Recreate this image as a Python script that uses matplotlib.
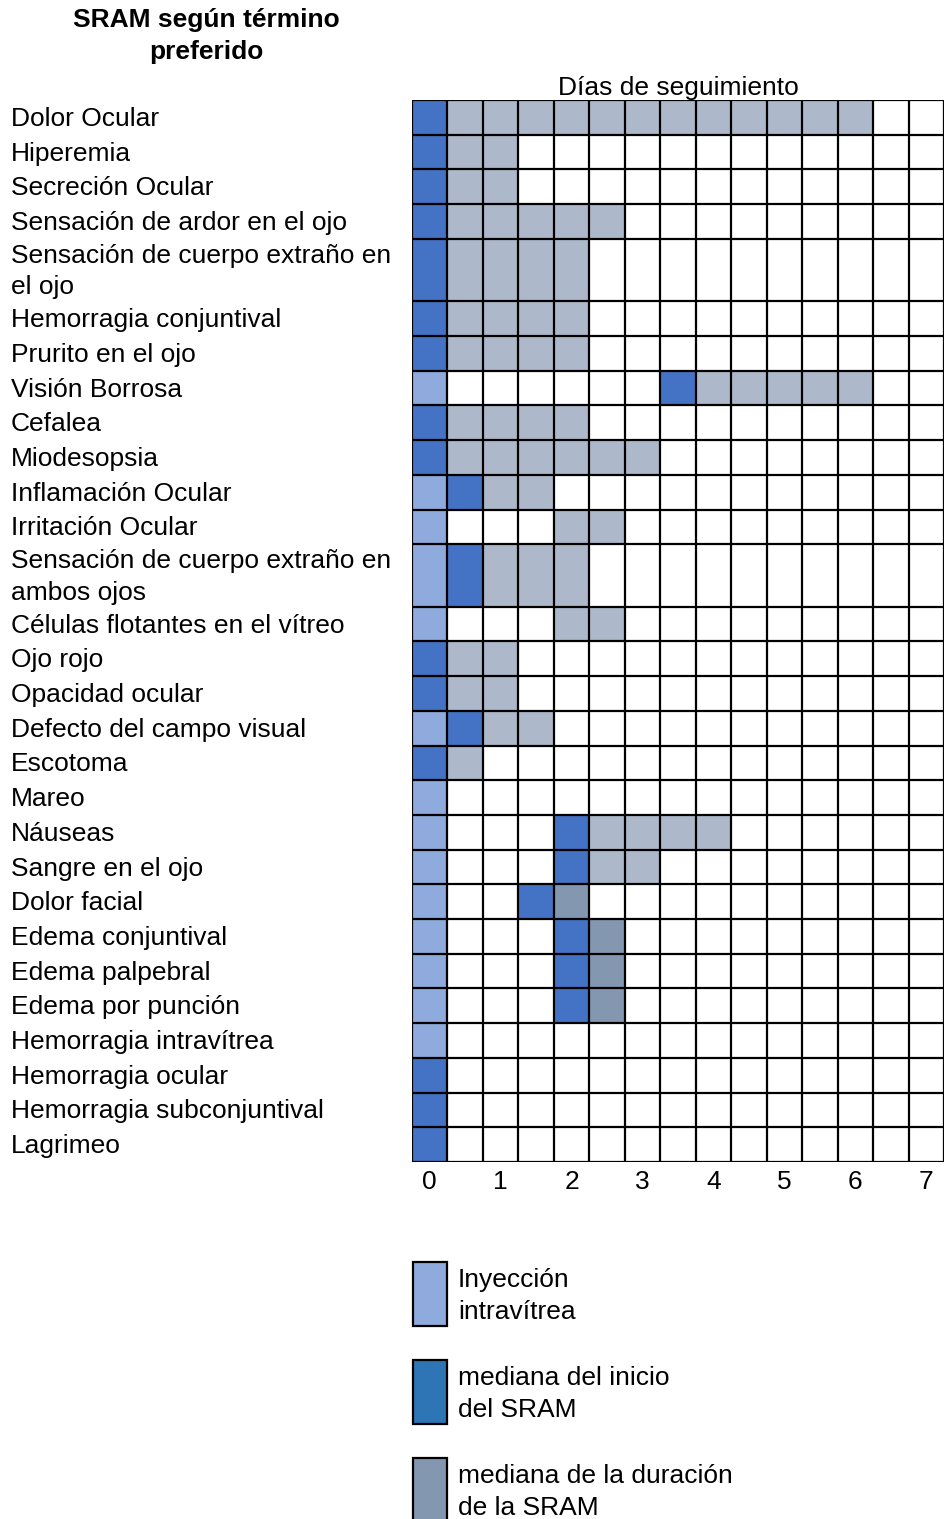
import numpy as np
import matplotlib
matplotlib.use("Agg")
import matplotlib.pyplot as plt
from matplotlib.patches import Rectangle
from matplotlib.transforms import blended_transform_factory, offset_copy

plt.rcParams['font.family'] = ['Liberation Sans', 'DejaVu Sans']

labels = [
    "Dolor Ocular", "Hiperemia", "Secreción Ocular", "Sensación de ardor en el ojo",
    "Sensación de cuerpo extraño en\nel ojo", "Hemorragia conjuntival", "Prurito en el ojo",
    "Visión Borrosa", "Cefalea", "Miodesopsia", "Inflamación Ocular", "Irritación Ocular",
    "Sensación de cuerpo extraño en\nambos ojos", "Células flotantes en el vítreo",
    "Ojo rojo", "Opacidad ocular", "Defecto del campo visual", "Escotoma", "Mareo",
    "Náuseas", "Sangre en el ojo", "Dolor facial", "Edema conjuntival", "Edema palpebral",
    "Edema por punción", "Hemorragia intravítrea", "Hemorragia ocular",
    "Hemorragia subconjuntival", "Lagrimeo",
]

# median onset day (None = no onset marked)
onset = [0, 0, 0, 0, 0, 0, 0, 3.5, 0, 0, 0.5, None, 0.5, None, 0, 0, 0.5, 0, None,
         2, 2, 1.5, 2, 2, 2, None, 0, 0, 0]

# duration span in days (start, end); None = no duration
dur_start = [0.5, 0.5, 0.5, 0.5, 0.5, 0.5, 0.5, 4.0, 0.5, 0.5, 1.0, 2.0, 1.0, 2.0,
             0.5, 0.5, 1.0, 0.5, None, 2.5, 2.5, 2.0, 2.5, 2.5, 2.5, None, None, None, None]
dur_end = [6.5, 1.5, 1.5, 3.0, 2.5, 2.5, 2.5, 6.5, 2.5, 3.5, 2.0, 3.0, 2.5, 3.0,
           1.5, 1.5, 2.0, 1.0, None, 4.5, 3.5, 2.5, 3.0, 3.0, 3.0, None, None, None, None]
dur_dark = [False] * 21 + [True, True, True, True] + [False] * 4

days = list(range(8))

c_inj = '#8FAADC'
c_onset = '#4472C4'
c_dur = '#ADB9CA'
c_dur_dark = '#8497B0'
c_leg_onset = '#2E75B6'

FS = 19
LS = 1.4

fig = plt.figure(figsize=(9.48, 15.19), dpi=100)
ax = fig.add_axes([412 / 948, 1 - 1162 / 1519, 532 / 948, 1062 / 1519])

heights = np.array([1.8 if "\n" in l else 1.0 for l in labels])
bounds = np.concatenate([[0], np.cumsum(heights)])
centers = bounds[:-1] + heights / 2

for i in range(len(labels)):
    y, h = centers[i], heights[i]
    if onset[i] != 0:
        ax.barh(y, 0.5, left=-0.25, height=h, color=c_inj, linewidth=0)
    if onset[i] is not None:
        ax.barh(y, 0.5, left=onset[i] - 0.25, height=h, color=c_onset, linewidth=0)
    if dur_start[i] is not None:
        col = c_dur_dark if dur_dark[i] else c_dur
        ax.barh(y, dur_end[i] - dur_start[i], left=dur_start[i] - 0.25, height=h,
                color=col, linewidth=0)

ax.vlines(np.arange(-0.25, 7.3, 0.5), 0, bounds[-1], color='black', lw=1.6)
ax.hlines(bounds, -0.25, 7.25, color='black', lw=1.6)

ax.set_xlim(-0.25, 7.25)
ax.set_ylim(bounds[-1], 0)
for s in ax.spines.values():
    s.set_visible(False)
ax.set_yticks([])
ax.set_xticks(days)
ax.tick_params(axis='x', length=0, labelsize=FS, pad=6)
ax.set_title("Días de seguimiento", fontsize=FS, pad=1)

trans = offset_copy(blended_transform_factory(fig.transFigure, ax.transData),
                    fig=fig, y=-1.5, units='dots')
for i, lab in enumerate(labels):
    ax.text(11 / 948, centers[i], lab, transform=trans, ha='left', va='center',
            fontsize=FS, linespacing=LS, clip_on=False)

fig.text(206 / 948, 1 - 36 / 1519, "SRAM según término\npreferido", ha='center',
         va='center', fontsize=FS, fontweight='bold', linespacing=1.38)

# legend
lax = fig.add_axes([0, 0, 1, 1], zorder=-1)
lax.set_xlim(0, 948)
lax.set_ylim(1519, 0)
lax.axis('off')
leg_items = [("Inyección\nintravítrea", c_inj, 1262),
             ("mediana del inicio\ndel SRAM", c_leg_onset, 1360),
             ("mediana de la duración\nde la SRAM", c_dur_dark, 1458)]
for text, col, top in leg_items:
    lax.add_patch(Rectangle((413, top), 34, 64, facecolor=col, edgecolor='black', lw=1.6))
    lax.text(458, top + 34, text, ha='left', va='center', fontsize=FS, linespacing=LS)

fig.savefig("out.png", dpi=100)
